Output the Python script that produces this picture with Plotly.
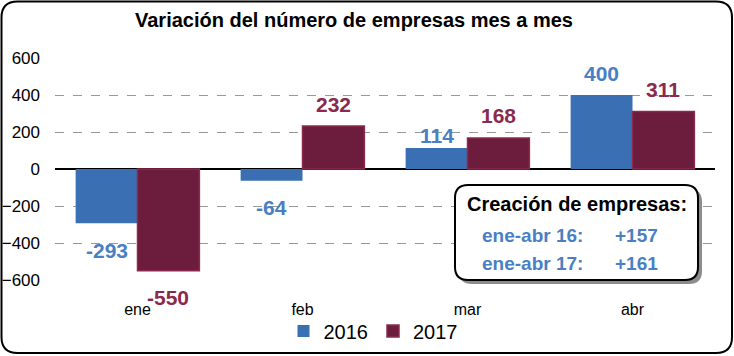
import plotly.graph_objects as go

# ---- data ----
categories = ["ene", "feb", "mar", "abr"]
series_names = ["2016", "2017"]
values_2016 = [-293, -64, 114, 400]
values_2017 = [-550, 232, 168, 311]
y_ticks = [-600, -400, -200, 0, 200, 400, 600]
title_text = "Variación del número de empresas mes a mes"
box_title = "Creación de empresas:"
box_rows = [("ene-abr 16:", "+157"), ("ene-abr 17:", "+161")]

# ---- style ----
FONT = "Liberation Sans, Arial, sans-serif"
BLUE_BAR = "#3b6fb3"
MAROON_BAR = "#6c1d3d"
MAROON_EDGE = "#8c2a4e"
BLUE_TXT = "#4a7fc3"
MAROON_TXT = "#8a2a4c"

W, H = 734, 356
L, R, T, B = 55, 19, 58, 76
PW, PH = W - L - R, H - T - B


def px(x):
    return (x - L) / PW


def py(y):
    return (H - B - y) / PH


def rrect(x0, y0, x1, y1, r):
    pts = [
        ("M", [(x0 + r, y0)]),
        ("L", [(x1 - r, y0)]),
        ("Q", [(x1, y0), (x1, y0 + r)]),
        ("L", [(x1, y1 - r)]),
        ("Q", [(x1, y1), (x1 - r, y1)]),
        ("L", [(x0 + r, y1)]),
        ("Q", [(x0, y1), (x0, y1 - r)]),
        ("L", [(x0, y0 + r)]),
        ("Q", [(x0, y0), (x0 + r, y0)]),
    ]
    s = ""
    for cmd, ps in pts:
        s += cmd + " " + " ".join(f"{px(a):.5f},{py(b):.5f}" for a, b in ps) + " "
    return s + "Z"


fig = go.Figure()
fig.add_trace(go.Bar(x=categories, y=values_2016, name=series_names[0],
                     marker=dict(color=BLUE_BAR, line=dict(width=0))))
fig.add_trace(go.Bar(x=categories, y=values_2017, name=series_names[1],
                     marker=dict(color=MAROON_BAR, line=dict(color=MAROON_EDGE, width=1.5))))

annotations = []

# title
annotations.append(dict(x=px(354), y=py(20), xref="paper", yref="paper",
                        text=f"<b>{title_text}</b>", showarrow=False,
                        xanchor="center", yanchor="middle",
                        font=dict(family=FONT, size=20, color="black")))

# data labels
half = PW / len(categories) * 0.75 / 4
for vals, sign, col in [(values_2016, -1, BLUE_TXT), (values_2017, 1, MAROON_TXT)]:
    for c, v in zip(categories, vals):
        shift = 22 if v >= 0 else -27
        if 0 < v < 150:
            shift = 12
        annotations.append(dict(x=c, y=v, xref="x", yref="y", text=f"<b>{v}</b>",
                                showarrow=False, xshift=sign * half, yshift=shift,
                                font=dict(family=FONT, size=21, color=col)))

shapes = [
    dict(type="path", xref="paper", yref="paper", path=rrect(1.5, 1.5, 732, 353, 16),
         line=dict(color="black", width=2), fillcolor="rgba(0,0,0,0)", layer="above"),
    dict(type="path", xref="paper", yref="paper", path=rrect(459, 189, 702, 284, 13),
         line=dict(width=0), fillcolor="#8c8c8c", layer="above"),
    dict(type="path", xref="paper", yref="paper", path=rrect(455, 185, 698, 280, 13),
         line=dict(color="black", width=2), fillcolor="white", layer="above"),
]

annotations.append(dict(x=px(577), y=py(204), xref="paper", yref="paper",
                        text=f"<b>{box_title}</b>", showarrow=False,
                        xanchor="center", yanchor="middle",
                        font=dict(family=FONT, size=20, color="black")))
for i, (lab, val) in enumerate(box_rows):
    yy = 235 + 28 * i
    annotations.append(dict(x=px(480), y=py(yy), xref="paper", yref="paper",
                            text=f"<b>{lab}</b>", showarrow=False,
                            xanchor="left", yanchor="middle",
                            font=dict(family=FONT, size=19, color=BLUE_TXT)))
    annotations.append(dict(x=px(613), y=py(yy), xref="paper", yref="paper",
                            text=f"<b>{val}</b>", showarrow=False,
                            xanchor="left", yanchor="middle",
                            font=dict(family=FONT, size=19, color=BLUE_TXT)))

fig.update_layout(
    width=W, height=H,
    margin=dict(l=L, r=R, t=T, b=B, autoexpand=False),
    paper_bgcolor="white", plot_bgcolor="white",
    barmode="group", bargap=0.25, bargroupgap=0,
    font=dict(family=FONT, color="black"),
    showlegend=True,
    legend=dict(orientation="h", xref="container", x=373 / W, xanchor="center",
                yref="container", y=1 - 331 / H, yanchor="middle",
                font=dict(family=FONT, size=20), bgcolor="rgba(0,0,0,0)",
                itemwidth=30, tracegroupgap=0),
    xaxis=dict(showgrid=False, showline=False, ticks="", tickfont=dict(size=16),
               ticklabelstandoff=18, automargin=False),
    yaxis=dict(range=[-600, 600], tickvals=y_ticks, showgrid=True, gridcolor="#999999",
               griddash="dash", gridwidth=1, zeroline=True, zerolinecolor="black",
               zerolinewidth=1.5, showline=False, ticks="", tickfont=dict(size=17),
               ticklabelstandoff=14, automargin=False),
    shapes=shapes,
    annotations=annotations,
)

fig.write_html("out.html", config={"displayModeBar": False},
               post_script="document.body.style.margin='0';document.body.style.padding='0';")
